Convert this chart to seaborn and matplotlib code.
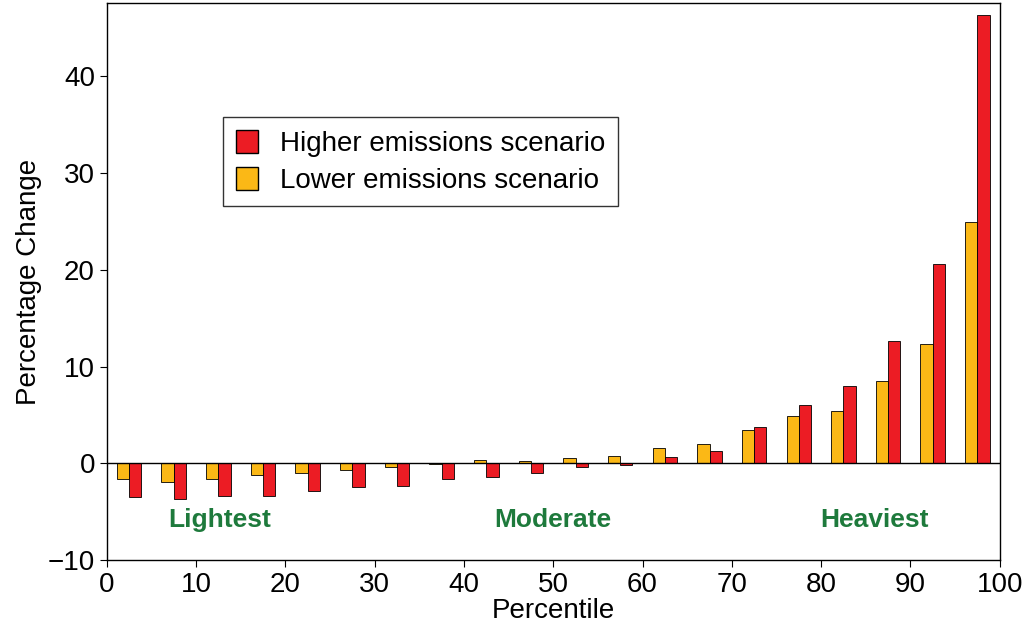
import numpy as np
import pandas as pd
import seaborn as sns
import matplotlib.pyplot as plt
from matplotlib.patches import Patch

sns.set_style("white")
plt.rcParams['font.family'] = ['Liberation Sans', 'DejaVu Sans']
plt.rcParams['text.color'] = 'black'
plt.rcParams['axes.labelcolor'] = 'black'
plt.rcParams['xtick.color'] = 'black'
plt.rcParams['ytick.color'] = 'black'

percentile = [2.5, 7.5, 12.5, 17.5, 22.5, 27.5, 32.5, 37.5, 42.5, 47.5,
              52.5, 57.5, 62.5, 67.5, 72.5, 77.5, 82.5, 87.5, 92.5, 97.5]
higher = [-3.5, -3.7, -3.4, -3.4, -2.8, -2.4, -2.3, -1.6, -1.4, -1.0,
          -0.4, -0.2, 0.7, 1.3, 3.8, 6.0, 8.0, 12.6, 20.6, 46.3]
lower = [-1.6, -1.9, -1.6, -1.2, -1.0, -0.7, -0.4, -0.1, 0.4, 0.2,
         0.6, 0.8, 1.6, 2.0, 3.5, 4.9, 5.4, 8.5, 12.3, 24.9]

df = pd.DataFrame({
    'Percentile': percentile * 2,
    'Change': lower + higher,
    'Scenario': ['Lower emissions scenario'] * 20 + ['Higher emissions scenario'] * 20,
})
colors = {'Lower emissions scenario': '#fbb816', 'Higher emissions scenario': '#ec1c24'}

fig, ax = plt.subplots(figsize=(10.36, 6.31), dpi=100)
sns.barplot(data=df, x='Percentile', y='Change', hue='Scenario', native_scale=True,
            palette=colors, saturation=1, width=0.55, edgecolor='black', linewidth=0.6,
            dodge=True, legend=False, ax=ax)
ax.axhline(0, color='black', lw=1)
ax.set_xlim(0, 100)
ax.set_ylim(-10, 47.5)
ax.set_xticks(range(0, 101, 10))
ax.set_yticks([-10, 0, 10, 20, 30, 40])
ax.tick_params(labelsize=20, direction='out', length=5, left=True, bottom=True)
ax.set_xlabel('Percentile', fontsize=20, labelpad=0)
ax.set_ylabel('Percentage Change', fontsize=20)
for s in ax.spines.values():
    s.set_color('black')
    s.set_linewidth(1)

for x, t in [(12.6, 'Lightest'), (50, 'Moderate'), (86, 'Heaviest')]:
    ax.text(x, -6.6, t, color='#1e7a3c', fontsize=19, fontweight='bold', ha='center')

handles = [Patch(facecolor=colors['Higher emissions scenario'], edgecolor='black', label='Higher emissions scenario'),
           Patch(facecolor=colors['Lower emissions scenario'], edgecolor='black', label='Lower emissions scenario')]
leg = ax.legend(handles=handles, loc='upper left', bbox_to_anchor=(0.115, 0.82), fontsize=20,
                frameon=True, fancybox=False, edgecolor='black', handlelength=0.8, handleheight=0.9,
                borderpad=0.45, labelspacing=0.35)
leg.get_frame().set_linewidth(1)

plt.subplots_adjust(left=0.103, right=0.965, top=0.995, bottom=0.112)
fig.savefig('out.png')
